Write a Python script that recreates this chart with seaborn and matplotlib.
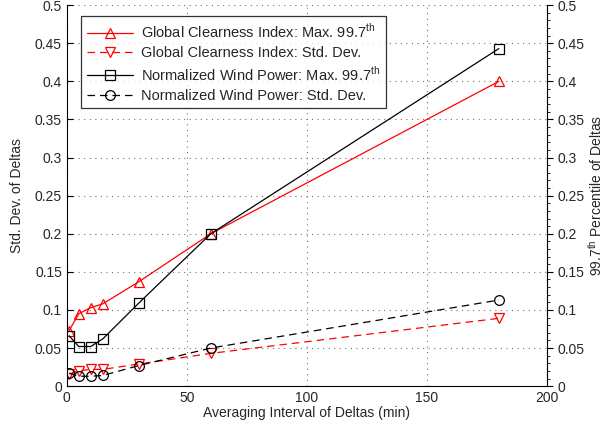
import numpy as np
import pandas as pd
import matplotlib
matplotlib.use('Agg')
import matplotlib.pyplot as plt
import seaborn as sns
from matplotlib.ticker import MultipleLocator

# data
intervals = [1, 5, 10, 15, 30, 60, 180]
gci_max = [0.073, 0.095, 0.103, 0.108, 0.137, 0.200, 0.400]
gci_std = [0.016, 0.020, 0.022, 0.022, 0.029, 0.043, 0.089]
wind_max = [0.066, 0.052, 0.052, 0.062, 0.109, 0.200, 0.443]
wind_std = [0.017, 0.013, 0.013, 0.014, 0.027, 0.050, 0.113]

labels = [r'Global Clearness Index: Max. 99.7$^{\mathrm{th}}$',
          'Global Clearness Index: Std. Dev.',
          r'Normalized Wind Power: Max. 99.7$^{\mathrm{th}}$',
          'Normalized Wind Power: Std. Dev.']
ytick_labels = ['0', '0.05', '0.1', '0.15', '0.2', '0.25', '0.3', '0.35',
                '0.4', '0.45', '0.5']

sns.set_style('white')
plt.rcParams['font.family'] = ['Liberation Sans', 'DejaVu Sans']
plt.rcParams['mathtext.fontset'] = 'custom'
plt.rcParams['mathtext.rm'] = 'Liberation Sans'
plt.rcParams['font.size'] = 10

fig = plt.figure(figsize=(6.07, 4.30), dpi=100)
ax = fig.add_axes([0.110, 0.102, 0.791, 0.886])

series = [
    (gci_max, 'red', '-', '^'),
    (gci_std, 'red', (0, (6, 4)), 'v'),
    (wind_max, 'black', '-', 's'),
    (wind_std, 'black', (0, (6, 4)), 'o'),
]
for (vals, col, ls, mk), lab in zip(series, labels):
    df = pd.DataFrame({'x': intervals, 'y': vals})
    sns.lineplot(data=df, x='x', y='y', ax=ax, color=col, linestyle=ls,
                 marker=mk, markersize=7, markerfacecolor='none',
                 markeredgecolor=col, markeredgewidth=0.9, linewidth=0.9,
                 label=lab)

ax.set_xlim(0, 200)
ax.set_ylim(0, 0.5)
ax.set_xticks(np.arange(0, 201, 50))
ax.set_yticks(np.arange(0, 0.501, 0.05))
ax.set_yticklabels(ytick_labels)
ax.xaxis.set_minor_locator(MultipleLocator(10))
ax.tick_params(axis='both', which='both', direction='in', color='black')
ax.tick_params(axis='y', which='major', length=4)
ax.tick_params(axis='x', which='major', length=4)
ax.tick_params(axis='x', which='minor', length=2)
ax.grid(True, which='major', linestyle=(0, (1, 4)), color='0.45', linewidth=0.8)
ax.set_xlabel('Averaging Interval of Deltas (min)', labelpad=1)
ax.set_ylabel('Std. Dev. of Deltas', labelpad=8)
ax.spines['top'].set_visible(False)
ax.spines['right'].set_visible(False)
for s in ['left', 'bottom']:
    ax.spines[s].set_color('black')
    ax.spines[s].set_linewidth(0.8)

leg = ax.legend(loc='upper left', bbox_to_anchor=(0.014, 0.99), frameon=True,
                fancybox=False, edgecolor='black', handlelength=3.2,
                handletextpad=0.5, borderpad=0.4, labelspacing=0.35,
                fontsize=10.5)
leg.get_frame().set_linewidth(0.9)

ax2 = ax.twinx()
ax2.set_ylim(0, 0.5)
ax2.set_yticks(np.arange(0, 0.501, 0.05))
ax2.set_yticklabels(ytick_labels)
ax2.yaxis.set_minor_locator(MultipleLocator(0.01))
ax2.tick_params(axis='y', which='major', direction='out', length=4, color='black')
ax2.tick_params(axis='y', which='minor', direction='out', length=2, color='black')
ax2.set_ylabel(r'99.7$^{\mathrm{th}}$ Percentile of Deltas', labelpad=2)
for s in ['top', 'left', 'bottom']:
    ax2.spines[s].set_visible(False)
ax2.spines['right'].set_color('black')
ax2.spines['right'].set_linewidth(0.8)

fig.savefig('out.png', dpi=100)
